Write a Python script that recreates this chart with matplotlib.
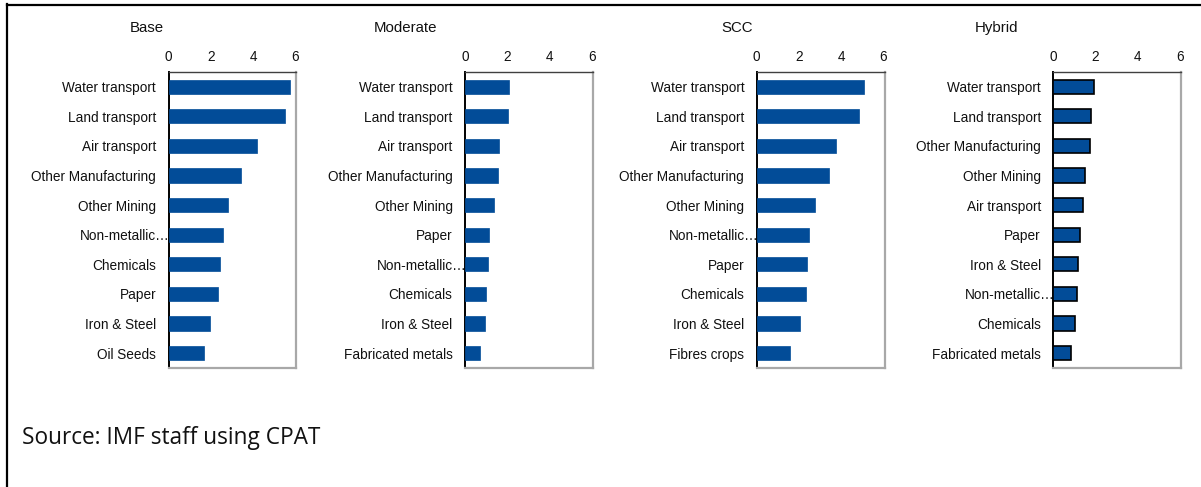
import matplotlib.pyplot as plt
from matplotlib.lines import Line2D
from matplotlib.transforms import ScaledTranslation

plt.rcParams["font.family"] = ["Liberation Sans", "DejaVu Sans"]

# top ten sectors per scenario, largest first
base_sectors = ["Water transport", "Land transport", "Air transport", "Other Manufacturing",
                "Other Mining", "Non-metallic…", "Chemicals", "Paper", "Iron & Steel", "Oil Seeds"]
base_values = [5.75, 5.5, 4.2, 3.43, 2.8, 2.6, 2.43, 2.32, 1.95, 1.7]

moderate_sectors = ["Water transport", "Land transport", "Air transport", "Other Manufacturing",
                    "Other Mining", "Paper", "Non-metallic…", "Chemicals", "Iron & Steel",
                    "Fabricated metals"]
moderate_values = [2.1, 2.05, 1.6, 1.56, 1.36, 1.15, 1.07, 1.01, 0.93, 0.7]

scc_sectors = ["Water transport", "Land transport", "Air transport", "Other Manufacturing",
               "Other Mining", "Non-metallic…", "Paper", "Chemicals", "Iron & Steel", "Fibres crops"]
scc_values = [5.08, 4.84, 3.75, 3.41, 2.78, 2.49, 2.37, 2.35, 2.06, 1.59]

hybrid_sectors = ["Water transport", "Land transport", "Other Manufacturing", "Other Mining",
                  "Air transport", "Paper", "Iron & Steel", "Non-metallic…", "Chemicals",
                  "Fabricated metals"]
hybrid_values = [1.93, 1.79, 1.73, 1.5, 1.42, 1.28, 1.16, 1.14, 1.02, 0.85]

x_ticks = [0, 2, 4, 6]

panels = [
    ("Base", base_sectors, base_values, 0.1403, 147, False),
    ("Moderate", moderate_sectors, moderate_values, 0.3872, 406, False),
    ("SCC", scc_sectors, scc_values, 0.6300, 737, False),
    ("Hybrid", hybrid_sectors, hybrid_values, 0.8770, 996, True),
]

W, H = 1201, 487
fig = plt.figure(figsize=(W / 100, H / 100), dpi=100)

bar_color = "#024c98"

for title, sectors, values, left, title_x, edged in panels:
    ax = fig.add_axes([left, 0.2444, 0.1065, 0.6078])
    pos = list(range(len(sectors)))
    ax.barh(pos, values, height=0.48, color=bar_color,
            edgecolor="black" if edged else bar_color,
            linewidth=1.2 if edged else 0.5, zorder=3)
    ax.set_ylim(len(sectors) - 0.5, -0.5)
    ax.set_xlim(0, 6.05)
    ax.set_yticks(pos)
    ax.set_yticklabels(sectors)
    ax.set_xticks(x_ticks)
    ax.xaxis.tick_top()
    ax.tick_params(axis="both", length=0, labelsize=9.8, colors="#111111")
    ax.tick_params(axis="x", pad=6)
    ax.tick_params(axis="y", pad=9)
    # truncated labels run up to the axis line
    for lab in ax.get_yticklabels():
        if lab.get_text().endswith("…"):
            lab.set_transform(lab.get_transform() +
                              ScaledTranslation(14 / 100, 0, fig.dpi_scale_trans))
    ax.spines["left"].set_color("black")
    ax.spines["left"].set_linewidth(1.4)
    ax.spines["top"].set_color("#404040")
    ax.spines["top"].set_linewidth(1.0)
    for side in ("right", "bottom"):
        ax.spines[side].set_color("#a8a8a8")
        ax.spines[side].set_linewidth(1.6)
    fig.text(title_x / W, 1 - 28 / H, title, ha="center", va="center",
             fontsize=10.8, color="#111111")

# outer frame
fig.add_artist(Line2D([7 / W, 7 / W], [0, 1 - 4 / H], color="black", lw=1.6))
fig.add_artist(Line2D([7 / W, 1], [1 - 5 / H, 1 - 5 / H], color="black", lw=1.6))

fig.text(22 / W, 1 - 438 / H, "Source: IMF staff using CPAT", ha="left", va="center",
         fontsize=16.3, family=["Open Sans", "DejaVu Sans"], color="#111111")

fig.savefig("out.png", dpi=100)
